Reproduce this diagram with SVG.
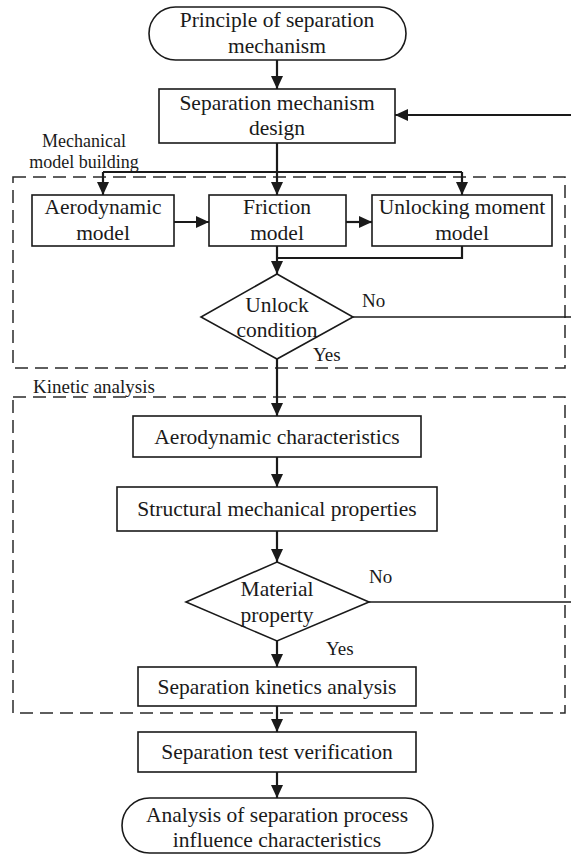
<svg xmlns="http://www.w3.org/2000/svg" width="571" height="854" viewBox="0 0 571 854">
<style>
  .box{fill:#fff;stroke:#1a1a1a;stroke-width:1.6}
  .dash{fill:none;stroke:#2a2a2a;stroke-width:1.5;stroke-dasharray:13 7}
  .t{font-family:"Liberation Serif","Times New Roman",serif;font-size:21.5px;fill:#1a1a1a;text-anchor:middle}
  .lbl{font-family:"Liberation Serif","Times New Roman",serif;font-size:19px;fill:#1a1a1a}
  .small{font-size:18px}
  .c{fill:none;stroke:#1a1a1a;stroke-width:2.2}
  .ca{fill:none;stroke:#1a1a1a;stroke-width:2.2;marker-end:url(#ah)}
  .thin{fill:none;stroke:#1a1a1a;stroke-width:1.4}
</style>
<defs>
  <marker id="ah" viewBox="0 0 13 12" markerWidth="13" markerHeight="12" refX="13" refY="6" orient="auto" markerUnits="userSpaceOnUse">
    <path d="M0,0 L13,6 L0,12 z" fill="#1a1a1a"/>
  </marker>
</defs>
<rect width="571" height="854" fill="#fff"/>

<g id="group-mechanical">
  <rect class="dash" x="13" y="177" width="552" height="191"/>
  <text class="lbl small" x="84" y="147" text-anchor="middle">Mechanical</text>
  <text class="lbl small" x="84" y="168" text-anchor="middle">model building</text>
</g>
<g id="group-kinetic">
  <rect class="dash" x="13" y="397" width="552" height="316"/>
  <text class="lbl" x="33" y="393">Kinetic analysis</text>
</g>

<g id="connectors">
  <path class="ca" d="M277,60 V89"/>
  <path class="ca" d="M571,115 H395"/>
  <path class="ca" d="M277,143 V195"/>
  <path class="c" d="M103,172 H462"/>
  <path class="ca" d="M103,172 V195"/>
  <path class="ca" d="M462,172 V195"/>
  <path class="ca" d="M174,222 H209"/>
  <path class="ca" d="M346,222 H372"/>
  <path class="ca" d="M277,246 V274"/>
  <path class="c" d="M462,246 V258 H277"/>
  <path class="thin" d="M353,317 H571"/>
  <path class="ca" d="M277,359 V416"/>
  <path class="ca" d="M277,457 V487"/>
  <path class="ca" d="M277,531 V562"/>
  <path class="thin" d="M369,602 H571"/>
  <path class="ca" d="M277,641 V667"/>
  <path class="ca" d="M277,706 V732"/>
  <path class="ca" d="M277,772 V798"/>
  <text class="lbl" x="362" y="307">No</text>
  <text class="lbl" x="313" y="361">Yes</text>
  <text class="lbl" x="369" y="583">No</text>
  <text class="lbl" x="326" y="655">Yes</text>
</g>

<g id="start">
  <rect class="box" x="149" y="7" width="257" height="53" rx="26.5"/>
  <text class="t" x="277" y="27">Principle of separation</text>
  <text class="t" x="277" y="53">mechanism</text>
</g>
<g id="design">
  <rect class="box" x="159" y="89" width="236" height="54"/>
  <text class="t" x="277" y="110">Separation mechanism</text>
  <text class="t" x="277" y="135">design</text>
</g>
<g id="aero-model">
  <rect class="box" x="32" y="195" width="142" height="51"/>
  <text class="t" x="103" y="214">Aerodynamic</text>
  <text class="t" x="103" y="240">model</text>
</g>
<g id="friction-model">
  <rect class="box" x="209" y="195" width="137" height="51"/>
  <text class="t" x="277" y="214">Friction</text>
  <text class="t" x="277" y="240">model</text>
</g>
<g id="unlocking-model">
  <rect class="box" x="372" y="195" width="180" height="51"/>
  <text class="t" x="462" y="214">Unlocking moment</text>
  <text class="t" x="462" y="240">model</text>
</g>
<g id="unlock-condition">
  <polygon class="box" points="277,274 353,317 277,359 201,317"/>
  <text class="t" x="277" y="312">Unlock</text>
  <text class="t" x="277" y="337">condition</text>
</g>
<g id="aero-char">
  <rect class="box" x="133" y="416" width="288" height="41"/>
  <text class="t" x="277" y="444">Aerodynamic characteristics</text>
</g>
<g id="structural">
  <rect class="box" x="117" y="487" width="320" height="44"/>
  <text class="t" x="277" y="516">Structural mechanical properties</text>
</g>
<g id="material">
  <polygon class="box" points="277,562 369,602 277,641 186,602"/>
  <text class="t" x="277" y="596">Material</text>
  <text class="t" x="277" y="622">property</text>
</g>
<g id="kinetics">
  <rect class="box" x="138" y="667" width="278" height="39"/>
  <text class="t" x="277" y="694">Separation kinetics analysis</text>
</g>
<g id="test">
  <rect class="box" x="138" y="732" width="278" height="40"/>
  <text class="t" x="277" y="759">Separation test verification</text>
</g>
<g id="end">
  <rect class="box" x="122" y="798" width="311" height="55" rx="27.5"/>
  <text class="t" x="277" y="822">Analysis of separation process</text>
  <text class="t" x="277" y="847">influence characteristics</text>
</g>
</svg>
